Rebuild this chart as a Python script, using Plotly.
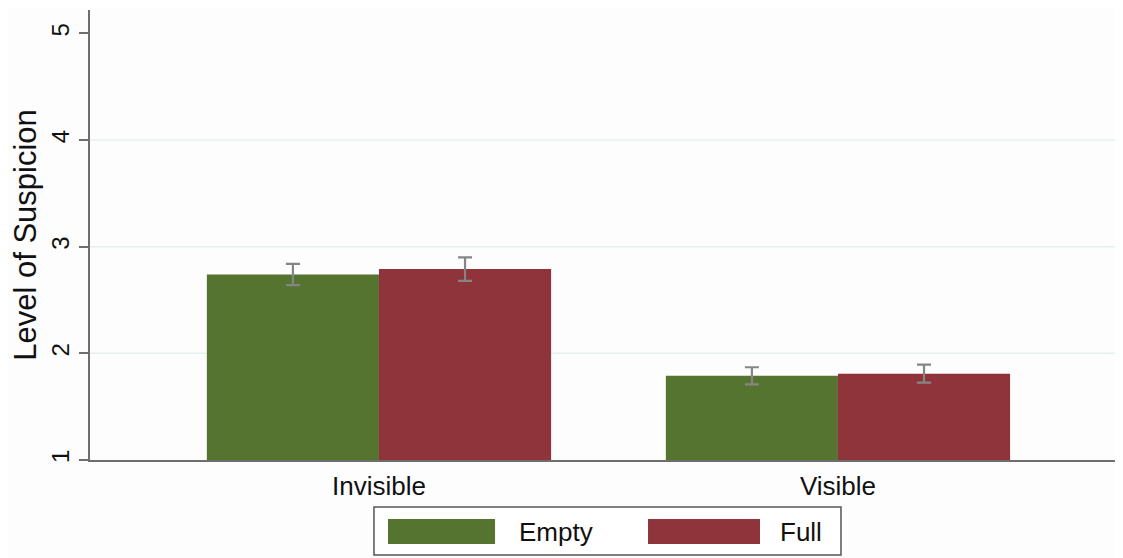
import plotly.graph_objects as go

categories = ["Invisible", "Visible"]
series_names = ["Empty", "Full"]
empty_vals = [2.74, 1.79]
empty_err = [0.10, 0.08]
full_vals = [2.79, 1.81]
full_err = [0.11, 0.085]
y_ticks = [1, 2, 3, 4, 5]
grid_vals = [2, 3, 4]

GREEN = "#55742f"
RED = "#8f343a"
ERR = "#858585"
AXIS = "#6e6e6e"
FONT = "Liberation Sans, Arial, sans-serif"

fig = go.Figure()
for name, vals, errs, col in [(series_names[0], empty_vals, empty_err, GREEN),
                              (series_names[1], full_vals, full_err, RED)]:
    fig.add_trace(go.Bar(
        x=categories, y=[v - 1 for v in vals], base=1, name=name,
        marker=dict(color=col, line=dict(width=0)),
        error_y=dict(type="data", array=errs, color=ERR, thickness=2.2, width=7),
        showlegend=False,
    ))

# light gridlines
for g in grid_vals:
    fig.add_shape(type="line", xref="paper", yref="y", x0=0, x1=1, y0=g, y1=g,
                  line=dict(color="#e6f0f1", width=1.5), layer="below")

# legend box drawn in paper coordinates
fig.add_shape(type="rect", xref="paper", yref="paper", x0=0.2749, x1=0.727,
              y0=-0.2111, y1=-0.1044, line=dict(color="#555555", width=1.5),
              fillcolor="white")
for (x0, x1, col, name, tx) in [(0.2885, 0.3921, GREEN, series_names[0], 0.4134),
                                (0.5402, 0.6486, RED, series_names[1], 0.666)]:
    fig.add_shape(type="rect", xref="paper", yref="paper", x0=x0, x1=x1,
                  y0=-0.1867, y1=-0.1311, line=dict(width=0), fillcolor=col)
    fig.add_annotation(xref="paper", yref="paper", x=tx, y=-0.159, text=name,
                       showarrow=False, xanchor="left", yanchor="middle",
                       font=dict(family=FONT, size=26, color="#111111"))

fig.update_layout(
    width=1115, height=550,
    margin=dict(l=82, r=0, t=2, b=98),
    paper_bgcolor="#fdfdfd", plot_bgcolor="#fdfdfd",
    barmode="group", bargap=0.25, bargroupgap=0,
    font=dict(family=FONT, color="#111111"),
    xaxis=dict(type="category", range=[-0.6296, 1.621], showgrid=False,
               showline=True, linecolor=AXIS, linewidth=2, ticks="",
               tickfont=dict(size=26), ticklabelstandoff=2),
    yaxis=dict(range=[1, 5.22], tickvals=y_ticks, showgrid=False, zeroline=False,
               showline=True, linecolor=AXIS, linewidth=2,
               ticks="outside", ticklen=9, tickcolor=AXIS, tickwidth=1.5,
               tickangle=-90, tickfont=dict(size=24),
               title=dict(text="Level of Suspicion", font=dict(size=31), standoff=4)),
)

fig.write_html("out.html")
